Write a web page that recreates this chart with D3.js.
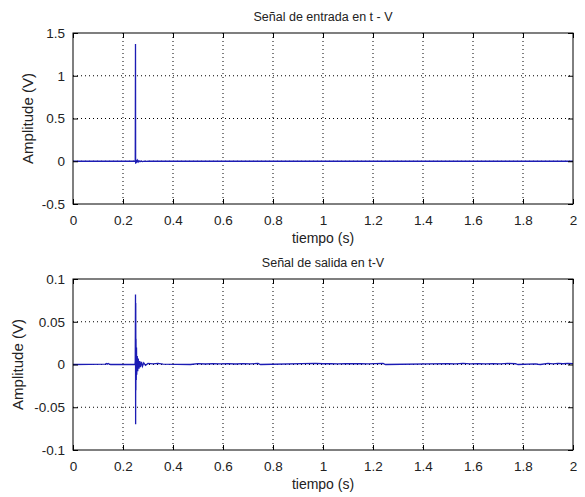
<!DOCTYPE html>
<html>
<head>
<meta charset="utf-8">
<script src="https://cdn.jsdelivr.net/npm/d3@7"></script>
<style>
  body { margin: 0; background: #fff; }
  text { font-family: "Liberation Sans", Arial, sans-serif; }
</style>
</head>
<body>
<div id="chart"></div>
<script>
// senal de entrada (t, V)
const inTime  = [0, 0.2490, 0.2500, 0.2505, 0.2510, 0.2525, 0.2540, 0.2560, 0.2580, 0.2610, 0.2640, 0.2680, 0.2720, 0.2780, 0.2850, 0.2950, 0.3000, 2];
const inValue = [0, 0,      1.37,   -0.030, 0.025,  -0.020, 0.015,  -0.012, 0.010,  -0.008, 0.006,  -0.005, 0.004,  -0.003, 0.002,  -0.001, 0,      0];

// senal de salida (t, V)
const outTime  = [0, 0.130, 0.133, 0.137, 0.141, 0.145, 0.150, 0.2480, 0.2490, 0.2500, 0.2505, 0.2510, 0.2515, 0.2520, 0.2530, 0.2540, 0.2550, 0.2570, 0.2590, 0.2610, 0.2640, 0.2670, 0.2700, 0.2740, 0.2780, 0.2830, 0.2900, 0.3000, 0.3200, 0.3400, 0.3600, 0.470,
  0.500, 0.530, 0.560, 0.590, 0.620, 0.650, 0.680, 0.710, 0.740, 0.750,
  0.970, 1.000, 1.030, 1.060, 1.090, 1.120, 1.150, 1.180, 1.210, 1.240, 1.250,
  1.500, 1.530, 1.560, 1.590, 1.620, 1.650, 1.680, 1.710, 1.740, 1.770, 1.780,
  1.850, 1.860, 1.870, 1.900, 1.920, 1.940, 1.960, 1.980, 2.000];
const outValue = [0, 0.0005, 0.0012, 0.0004, 0.0011, 0.0003, 0, 0, 0.004, 0.082, -0.070, 0.072, -0.030, 0.030, -0.018, 0.020, -0.012, 0.010, -0.008, 0.007, -0.005, 0.004, -0.003, 0.003, -0.002, 0.002, -0.001, 0.0012, 0.0008, 0.0012, 0.0004, 0,
  0.0010, 0.0006, 0.0011, 0.0007, 0.0010, 0.0006, 0.0011, 0.0008, 0.0012, 0,
  0.0012, 0.0009, 0.0011, 0.0008, 0.0010, 0.0009, 0.0011, 0.0008, 0.0010, 0.0013, 0,
  0.0010, 0.0007, 0.0012, 0.0008, 0.0010, 0.0007, 0.0011, 0.0008, 0.0012, 0.0009, 0,
  0.0008, 0.0003, 0, 0.0012, 0.0008, 0.0013, 0.0009, 0.0012, 0.0010];

const xTicks = [0, 0.2, 0.4, 0.6, 0.8, 1, 1.2, 1.4, 1.6, 1.8, 2];
const yTicksIn  = [-0.5, 0, 0.5, 1, 1.5];
const yTicksOut = [-0.1, -0.05, 0, 0.05, 0.1];

const width = 585, height = 497;
const svg = d3.select("#chart").append("svg")
  .attr("width", width).attr("height", height);

const panels = [
  { title: "Señal de entrada en t - V", time: inTime, value: inValue, yDomain: [-0.5, 1.5], yTicks: yTicksIn, top: 33, bottom: 204, labelX: 33 },
  { title: "Señal de salida en t-V", time: outTime, value: outValue, yDomain: [-0.1, 0.1], yTicks: yTicksOut, top: 279, bottom: 450, labelX: 23 }
];

const left = 73, right = 573;

panels.forEach(p => {
  const x = d3.scaleLinear().domain([0, 2]).range([left, right]);
  const y = d3.scaleLinear().domain(p.yDomain).range([p.bottom, p.top]);
  const g = svg.append("g");

  // grid
  g.selectAll(".vgrid").data(xTicks.slice(1, -1)).enter().append("line")
    .attr("x1", d => x(d)).attr("x2", d => x(d))
    .attr("y1", p.top).attr("y2", p.bottom)
    .attr("stroke", "#000").attr("stroke-width", 1).attr("stroke-dasharray", "1,3");
  g.selectAll(".hgrid").data(p.yTicks.slice(1, -1)).enter().append("line")
    .attr("y1", d => y(d)).attr("y2", d => y(d))
    .attr("x1", left).attr("x2", right)
    .attr("stroke", "#000").attr("stroke-width", 1).attr("stroke-dasharray", "1,3");

  // signal
  const pts = p.time.map((t, i) => [t, p.value[i]]);
  g.append("path")
    .datum(pts)
    .attr("fill", "none")
    .attr("stroke", "#1c1cb4")
    .attr("stroke-width", 1.3)
    .attr("d", d3.line().x(d => x(d[0])).y(d => y(d[1])));

  // axes, ticks inward
  const fmt = d => String(d);
  g.append("g").attr("transform", `translate(0,${p.bottom})`)
    .call(d3.axisBottom(x).tickValues(xTicks).tickSizeInner(-5).tickSizeOuter(0).tickPadding(11).tickFormat(fmt));
  g.append("g").attr("transform", `translate(0,${p.top})`)
    .call(d3.axisTop(x).tickValues(xTicks).tickSizeInner(-5).tickSizeOuter(0).tickFormat(""));
  g.append("g").attr("transform", `translate(${left},0)`)
    .call(d3.axisLeft(y).tickValues(p.yTicks).tickSizeInner(-5).tickSizeOuter(0).tickPadding(8).tickFormat(fmt));
  g.append("g").attr("transform", `translate(${right},0)`)
    .call(d3.axisRight(y).tickValues(p.yTicks).tickSizeInner(-5).tickSizeOuter(0).tickFormat(""));

  g.selectAll(".domain").remove();
  g.selectAll(".tick line").attr("stroke", "#000");
  g.selectAll(".tick text").attr("font-size", 13.5).attr("fill", "#222")
    .style("font-family", "'Liberation Sans', Arial, sans-serif");

  g.append("rect")
    .attr("x", left).attr("y", p.top)
    .attr("width", right - left).attr("height", p.bottom - p.top)
    .attr("fill", "none").attr("stroke", "#000").attr("stroke-width", 1);

  g.append("text")
    .attr("x", (left + right) / 2).attr("y", p.top - 12)
    .attr("text-anchor", "middle").attr("font-size", 12.5).attr("fill", "#222")
    .text(p.title);

  g.append("text")
    .attr("x", (left + right) / 2).attr("y", p.bottom + 39)
    .attr("text-anchor", "middle").attr("font-size", 14).attr("fill", "#222")
    .text("tiempo (s)");

  g.append("text")
    .attr("transform", `translate(${p.labelX},${(p.top + p.bottom) / 2}) rotate(-90)`)
    .attr("text-anchor", "middle").attr("font-size", 15).attr("fill", "#222")
    .text("Amplitude (V)");
});
</script>
</body>
</html>
